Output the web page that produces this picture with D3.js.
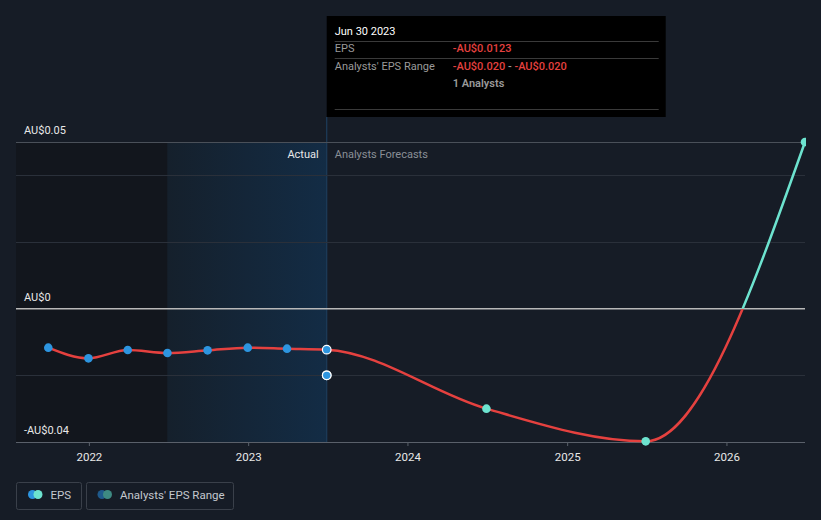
<!DOCTYPE html>
<html>
<head>
<meta charset="utf-8">
<script src="https://cdn.jsdelivr.net/npm/d3@7"></script>
<style>
  html, body { margin: 0; padding: 0; background: #161c26; }
  svg { display: block; font-family: Roboto, "Noto Sans", sans-serif; }
</style>
</head>
<body>
<svg id="chart" width="821" height="520"></svg>
<script>
// ---- data ----
const historyDates = ["2021-09-30","2021-12-31","2022-03-31","2022-06-30","2022-09-30","2022-12-31","2023-03-31","2023-06-30"];
const historyEPS   = [-0.0117, -0.0149, -0.0124, -0.0133, -0.0125, -0.0117, -0.0120, -0.0123];
const forecastDates = ["2024-06-30","2025-06-30","2026-06-30"];
const forecastEPS   = [-0.0300, -0.0398, 0.0500];
const rangeDate = "2023-06-30";
const rangeLow = -0.020, rangeHigh = -0.020;
const yTicks = [0.05, 0, -0.04];
const yTickLabels = ["AU$0.05", "AU$0", "-AU$0.04"];
const gridValues = [0.04, 0.02, -0.02];
const xTickYears = [2022, 2023, 2024, 2025, 2026];
const tooltipTitle = "Jun 30 2023";
const tooltipEPS = "-AU$0.0123";
const tooltipRangeLow = "-AU$0.020";
const tooltipRangeHigh = "-AU$0.020";
const tooltipAnalysts = "1 Analysts";
const legendLabels = ["EPS", "Analysts' EPS Range"];

// ---- setup ----
const parse = d3.timeParse("%Y-%m-%d");
const svg = d3.select("#chart");
const W = 821, H = 520;
const pL = 16, pR = 805, pT = 142, pB = 442;

const x = d3.scaleTime()
  .domain([parse("2021-07-18"), parse("2026-06-30")])
  .range([pL, pR]);
const y = d3.scaleLinear().domain([-0.04, 0.05]).range([pB, pT]);

const RED = "#e5413f", TEAL = "#6de3cf", BLUE = "#2d95e0";

svg.append("rect").attr("width", W).attr("height", H).attr("fill", "#161c26");

const defs = svg.append("defs");
const grad = defs.append("linearGradient").attr("id", "hl").attr("x1", 0).attr("x2", 1).attr("y1", 0).attr("y2", 0);
grad.append("stop").attr("offset", "0%").attr("stop-color", "#15202c");
grad.append("stop").attr("offset", "100%").attr("stop-color", "#132c45");

const pastStart = parse("2022-06-30");
const nowDate = parse("2023-06-30");

// dark past region
svg.append("rect")
  .attr("x", pL).attr("y", pT)
  .attr("width", x(pastStart) - pL).attr("height", pB - pT)
  .attr("fill", "#12161d");
// highlight region
svg.append("rect")
  .attr("x", x(pastStart)).attr("y", pT)
  .attr("width", x(nowDate) - x(pastStart)).attr("height", pB - pT)
  .attr("fill", "url(#hl)");
// now line
svg.append("line")
  .attr("x1", x(nowDate)).attr("x2", x(nowDate))
  .attr("y1", 117).attr("y2", pB)
  .attr("stroke", "#1d3c5a").attr("stroke-width", 1.2);

// grid lines
svg.append("g").selectAll("line").data(gridValues).join("line")
  .attr("x1", pL).attr("x2", pR)
  .attr("y1", d => Math.round(y(d)) + 0.5).attr("y2", d => Math.round(y(d)) + 0.5)
  .attr("stroke", "#2a303a").attr("stroke-width", 1);
// top line
svg.append("line")
  .attr("x1", pL).attr("x2", pR)
  .attr("y1", Math.round(y(0.05)) + 0.5).attr("y2", Math.round(y(0.05)) + 0.5)
  .attr("stroke", "#4a5059").attr("stroke-width", 1);
// zero line
svg.append("line")
  .attr("x1", pL).attr("x2", pR)
  .attr("y1", y(0)).attr("y2", y(0))
  .attr("stroke", "#b8b8b8").attr("stroke-width", 1.5);

// x axis
const xAxis = d3.axisBottom(x)
  .tickValues(xTickYears.map(yr => new Date(yr, 0, 1)))
  .tickFormat(d3.timeFormat("%Y"))
  .tickSize(4).tickSizeOuter(0);
const gx = svg.append("g").attr("transform", `translate(0,${pB})`).call(xAxis);
gx.select(".domain").attr("stroke", "#5a606a").attr("d", `M${pL},0.5H${pR}`);
gx.selectAll(".tick line").attr("stroke", "#5a606a");
gx.selectAll(".tick text").attr("fill", "#e8e8e8").attr("font-size", 11.5).attr("dy", "1.05em")
  .attr("font-family", "Roboto, sans-serif");

// y labels
svg.append("g").selectAll("text").data(yTicks).join("text")
  .attr("x", 24).attr("y", d => y(d) - 8)
  .attr("fill", "#e8e8e8").attr("font-size", 11)
  .text((d, i) => yTickLabels[i]);

// Actual / Forecast labels
svg.append("text").attr("x", x(nowDate) - 8).attr("y", 158).attr("text-anchor", "end")
  .attr("fill", "#e8e8e8").attr("font-size", 11).text("Actual");
svg.append("text").attr("x", x(nowDate) + 8).attr("y", 158)
  .attr("fill", "#8a8f96").attr("font-size", 11).text("Analysts Forecasts");

// line
const allPts = historyDates.map((d, i) => ({ date: parse(d), v: historyEPS[i] }))
  .concat(forecastDates.map((d, i) => ({ date: parse(d), v: forecastEPS[i] })));
const lineGen = d3.line().x(d => x(d.date)).y(d => y(d.v)).curve(d3.curveMonotoneX);

defs.append("clipPath").attr("id", "below").append("rect")
  .attr("x", 0).attr("y", y(0)).attr("width", W).attr("height", H);
defs.append("clipPath").attr("id", "above").append("rect")
  .attr("x", 0).attr("y", 0).attr("width", W).attr("height", y(0));
defs.append("clipPath").attr("id", "plot").append("rect")
  .attr("x", 0).attr("y", 0).attr("width", pR + 1).attr("height", H);

const lg = svg.append("g").attr("clip-path", "url(#plot)");
lg.append("path").datum(allPts).attr("d", lineGen)
  .attr("fill", "none").attr("stroke", RED).attr("stroke-width", 2.5)
  .attr("clip-path", "url(#below)");
lg.append("path").datum(allPts).attr("d", lineGen)
  .attr("fill", "none").attr("stroke", TEAL).attr("stroke-width", 2.5)
  .attr("clip-path", "url(#above)");

// history points
const hist = allPts.slice(0, historyDates.length);
lg.append("g").selectAll("circle").data(hist).join("circle")
  .attr("cx", d => x(d.date)).attr("cy", d => y(d.v)).attr("r", 4.3)
  .attr("fill", BLUE)
  .attr("stroke", (d, i) => i === hist.length - 1 ? "#ffffff" : "none")
  .attr("stroke-width", 1.2);
// range point
lg.append("g").selectAll("circle").data([rangeLow, rangeHigh]).join("circle")
  .attr("cx", x(parse(rangeDate))).attr("cy", d => y(d)).attr("r", 4.3)
  .attr("fill", BLUE).attr("stroke", "#ffffff").attr("stroke-width", 1.2);
// forecast points
const fc = allPts.slice(historyDates.length);
lg.append("g").selectAll("circle").data(fc).join("circle")
  .attr("cx", d => x(d.date)).attr("cy", d => y(d.v)).attr("r", 4.3)
  .attr("fill", TEAL);

// tooltip
const tt = svg.append("g").attr("transform", `translate(${x(nowDate)},16)`);
tt.append("rect").attr("width", 339).attr("height", 101).attr("fill", "#000");
tt.append("text").attr("x", 8).attr("y", 18.5).attr("fill", "#ffffff").attr("font-size", 11).text(tooltipTitle);
[25, 42, 93].forEach(yy => {
  tt.append("line").attr("x1", 8).attr("x2", 332).attr("y1", yy + 0.5).attr("y2", yy + 0.5)
    .attr("stroke", "#3a3a3a").attr("stroke-width", 1);
});
tt.append("text").attr("x", 8).attr("y", 36).attr("fill", "#9a9a9a").attr("font-size", 11).text("EPS");
tt.append("text").attr("x", 126).attr("y", 36).attr("fill", RED).attr("font-size", 11).attr("font-weight", 500).text(tooltipEPS);
tt.append("text").attr("x", 8).attr("y", 53.5).attr("fill", "#9a9a9a").attr("font-size", 11).text("Analysts' EPS Range");
const rt = tt.append("text").attr("x", 126).attr("y", 53.5).attr("font-size", 11).attr("font-weight", 500);
rt.append("tspan").attr("fill", RED).text(tooltipRangeLow);
rt.append("tspan").attr("fill", "#9a9a9a").text(" - ");
rt.append("tspan").attr("fill", RED).text(tooltipRangeHigh);
tt.append("text").attr("x", 126).attr("y", 71).attr("fill", "#9a9a9a").attr("font-size", 11).attr("font-weight", 600).text(tooltipAnalysts);

// legend
const legend = svg.append("g");
const lb1 = legend.append("g").attr("transform", "translate(16.5,482.5)");
lb1.append("rect").attr("width", 65).attr("height", 27).attr("rx", 2)
  .attr("fill", "none").attr("stroke", "#3a404a");
lb1.append("circle").attr("cx", 16).attr("cy", 12).attr("r", 4.5).attr("fill", BLUE);
lb1.append("circle").attr("cx", 21.5).attr("cy", 12).attr("r", 4.5).attr("fill", TEAL);
lb1.append("text").attr("x", 34).attr("y", 16.5).attr("fill", "#c4c8ce").attr("font-size", 11.5).text(legendLabels[0]);

const lb2 = legend.append("g").attr("transform", "translate(86.5,482.5)");
lb2.append("rect").attr("width", 147).attr("height", 27).attr("rx", 2)
  .attr("fill", "none").attr("stroke", "#3a404a");
lb2.append("circle").attr("cx", 15.5).attr("cy", 12).attr("r", 4.5).attr("fill", "#1f5a8c");
lb2.append("circle").attr("cx", 21).attr("cy", 12).attr("r", 4.5).attr("fill", "#3e8a82");
lb2.append("text").attr("x", 33.5).attr("y", 16.5).attr("fill", "#c4c8ce").attr("font-size", 11.5).text(legendLabels[1]);
</script>
</body>
</html>
